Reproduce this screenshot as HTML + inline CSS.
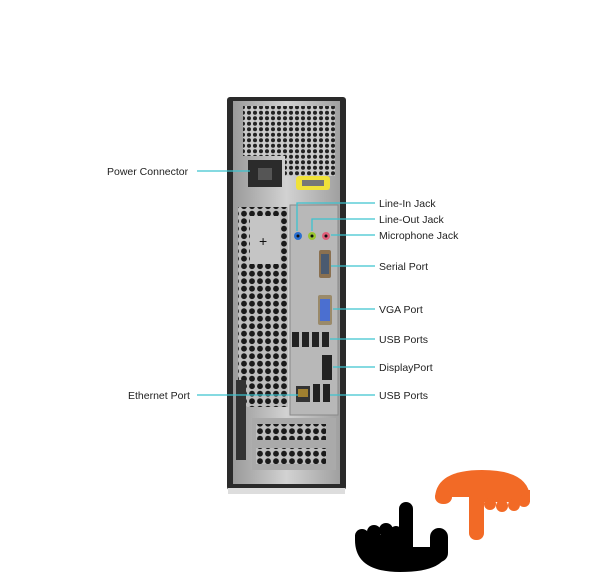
<!DOCTYPE html>
<html><head><style>
body{margin:0;background:#fff;width:600px;height:588px;overflow:hidden}
svg{display:block}
text{font-family:"Liberation Sans",sans-serif;font-size:10.5px;fill:#222}
</style></head><body>
<svg width="600" height="588" viewBox="0 0 600 588">
<defs>
<pattern id="h" width="6" height="5.5" patternUnits="userSpaceOnUse">
<rect width="6" height="5.5" fill="#c9c9c9"/><circle cx="3" cy="2.75" r="2" fill="#222"/></pattern>
<pattern id="hb" width="8" height="7.5" patternUnits="userSpaceOnUse">
<rect width="8" height="7.5" fill="#bdbdbd"/><circle cx="4" cy="3.7" r="2.9" fill="#1a1a1a"/></pattern>
<linearGradient id="g" x1="0" x2="1"><stop offset="0" stop-color="#9a9a9a"/><stop offset=".5" stop-color="#d2d2d2"/><stop offset="1" stop-color="#a0a0a0"/></linearGradient>
</defs>
<rect x="227" y="97" width="119" height="393" rx="3" fill="#2a2a2a"/>
<rect x="233" y="101" width="107" height="383" fill="url(#g)"/>
<rect x="228" y="488" width="117" height="6" fill="#ddd"/>
<rect x="243" y="106" width="92" height="50" fill="url(#h)"/>
<rect x="285" y="150" width="50" height="26" fill="url(#h)"/>
<rect x="248" y="160" width="34" height="27" fill="#2b2b2b"/>
<rect x="258" y="168" width="14" height="12" fill="#555"/>
<rect x="296" y="176" width="34" height="14" rx="3" fill="#f0e23a"/>
<rect x="302" y="180" width="22" height="6" fill="#777"/>
<rect x="238" y="207" width="50" height="200" fill="url(#hb)"/>
<rect x="250" y="216" width="30" height="48" fill="#c5c5c5"/>
<text x="259" y="246" style="font-size:14px;fill:#111">+</text>
<rect x="236" y="380" width="10" height="80" fill="#333"/>
<rect x="290" y="205" width="48" height="210" fill="#b8b8b8" stroke="#888"/>
<circle cx="298" cy="236" r="4" fill="#2a6fd0"/><circle cx="298" cy="236" r="1.5" fill="#111"/>
<circle cx="312" cy="236" r="4" fill="#9ac531"/><circle cx="312" cy="236" r="1.5" fill="#111"/>
<circle cx="326" cy="236" r="4" fill="#e0607a"/><circle cx="326" cy="236" r="1.5" fill="#111"/>
<rect x="319" y="250" width="12" height="28" rx="2" fill="#8a7050"/>
<rect x="321" y="254" width="8" height="20" fill="#4a5a70"/>
<rect x="318" y="295" width="14" height="30" rx="2" fill="#9a8a6a"/>
<rect x="320" y="299" width="10" height="22" fill="#4b6fd0"/>
<rect x="292" y="332" width="7" height="15" fill="#222"/><rect x="302" y="332" width="7" height="15" fill="#222"/>
<rect x="312" y="332" width="7" height="15" fill="#222"/><rect x="322" y="332" width="7" height="15" fill="#222"/>
<rect x="322" y="355" width="10" height="25" fill="#222"/>
<rect x="296" y="386" width="14" height="16" fill="#333"/><rect x="298" y="389" width="10" height="8" fill="#a08030"/>
<rect x="313" y="384" width="7" height="18" fill="#222"/><rect x="323" y="384" width="7" height="18" fill="#222"/>
<rect x="252" y="418" width="84" height="52" fill="#aaa"/>
<rect x="256" y="424" width="70" height="16" fill="url(#hb)"/>
<rect x="256" y="448" width="70" height="16" fill="url(#hb)"/>
<g stroke="#3cc3cf" stroke-width="1.3" fill="none">
<path d="M197 171H250"/>
<path d="M297 231V203H375"/>
<path d="M312 231V219H375"/>
<path d="M331 235H375"/>
<path d="M331 266H375"/>
<path d="M333 309H375"/>
<path d="M330 339H375"/>
<path d="M333 367H375"/>
<path d="M330 395H375"/>
<path d="M197 395H298"/>
</g>
<text x="107" y="175">Power Connector</text>
<text x="128" y="399">Ethernet Port</text>
<text x="379" y="207">Line-In Jack</text>
<text x="379" y="223">Line-Out Jack</text>
<text x="379" y="239">Microphone Jack</text>
<text x="379" y="270">Serial Port</text>
<text x="379" y="313">VGA Port</text>
<text x="379" y="343">USB Ports</text>
<text x="379" y="371">DisplayPort</text>
<text x="379" y="399">USB Ports</text>
<!-- black logo -->
<g fill="#000">
<path d="M355 535 L399 535 L399 547 L448 547 Q448 572 400 572 Q355 572 355 540Z"/>
<circle cx="362" cy="536" r="7"/><circle cx="374" cy="532" r="7"/><circle cx="386" cy="530" r="7"/><circle cx="396" cy="532" r="6"/>
<rect x="399" y="502" width="14" height="55" rx="7"/>
<rect x="430" y="528" width="18" height="34" rx="9"/>
</g>
<!-- orange logo -->
<g fill="#f26a26">
<path d="M435 497 Q437 470 482 470 Q528 470 530 497 Z"/>
<rect x="435" y="490" width="17" height="14" rx="8"/>
<rect x="469" y="485" width="15" height="55" rx="7"/>
<rect x="484" y="490" width="46" height="12"/>
<circle cx="490" cy="504" r="6"/><circle cx="502" cy="506" r="6"/><circle cx="514" cy="505" r="6"/><circle cx="524" cy="501" r="6"/>
</g>
</svg>
</body></html>
